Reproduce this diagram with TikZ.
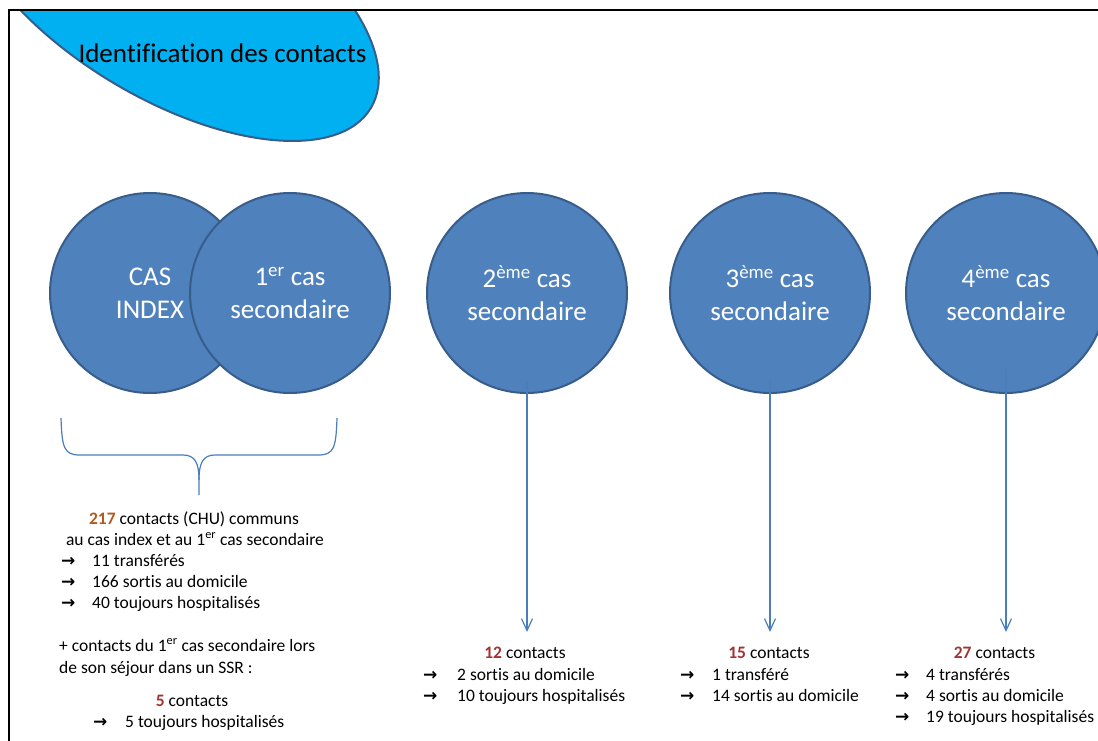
\documentclass[tikz,border=0pt]{standalone}
\usepackage{fontspec}
\setmainfont{Carlito}[Ligatures=NoCommon]
\newfontfamily\arrowfont{DejaVu Sans}
\usetikzlibrary{arrows.meta}
\definecolor{circfill}{HTML}{4F81BD}
\definecolor{circdraw}{HTML}{385D8A}
\definecolor{linkblue}{HTML}{4A7EBB}
\definecolor{titlefill}{HTML}{00B0F0}
\definecolor{numred}{RGB}{160,52,50}
\definecolor{numorange}{RGB}{175,90,30}
\newcommand{\arrline}[2][31pt]{\makebox[#1][l]{\arrowfont\bfseries\fontsize{17}{21}\selectfont →}#2}
\begin{document}
\begin{tikzpicture}[x=1pt,y=-1pt,
  casecircle/.style={circle, fill=circfill, draw=circdraw, line width=2pt, minimum size=200pt, inner sep=0pt, text=white, font=\fontsize{27}{33}\selectfont, align=center},
  bodytext/.style={font=\fontsize{17.5}{21}\selectfont, inner sep=0pt},
  link/.style={draw=linkblue, line width=1.2pt, -{Straight Barb[length=12pt,width=11pt]}},
  bracestyle/.style={draw=linkblue, line width=1.2pt},
  framestyle/.style={draw=black, line width=2pt},
]
\useasboundingbox (0,0) rectangle (1098,740);
\begin{scope}
\clip (9,10) rectangle (1098,740);
\draw[fill=titlefill, draw=circdraw, line width=2pt, rotate around={-30.85:(170,-12)}] (170,-12) ellipse [x radius=234, y radius=110.5];
\node[casecircle] (c0) at (150,293) {CAS\\INDEX};
\node[casecircle] (c1) at (290,293) {1\textsuperscript{er} cas\\secondaire};
\node[casecircle] (c2) at (527,293) {2\textsuperscript{ème} cas\\secondaire};
\node[casecircle] (c3) at (770,293) {3\textsuperscript{ème} cas\\secondaire};
\node[casecircle] (c4) at (1006,293) {4\textsuperscript{ème} cas\\secondaire};
\end{scope}
\draw[framestyle] (9,745) -- (9,10) -- (1105,10);
\node[font=\fontsize{27}{33}\selectfont, inner sep=0pt, anchor=base] (title) at (222.5,62) {Identification des contacts};

% brace
\draw[bracestyle] (61,418) .. controls (62,448) and (64,455) .. (80,455) -- (183,455) .. controls (195,455) and (199,463) .. (199,480) -- (199,495);
\draw[bracestyle] (337,418) .. controls (336,448) and (334,455) .. (318,455) -- (215,455) .. controls (203,455) and (199,463) .. (199,480);

% left block
\node[bodytext, anchor=base] (l1) at (194,524) {\textcolor{numorange}{\bfseries 217} contacts (CHU) communs};
\node[bodytext, anchor=base] (l2) at (195,545) {au cas index et au 1\textsuperscript{er} cas secondaire};
\node[bodytext, anchor=base west] (l3) at (61,566) {\arrline{11 transférés}};
\node[bodytext, anchor=base west] (l4) at (61,587) {\arrline{166 sortis au domicile}};
\node[bodytext, anchor=base west] (l5) at (61,608) {\arrline{40 toujours hospitalisés}};
\node[bodytext, anchor=base west] (l6) at (59,651) {+ contacts du 1\textsuperscript{er} cas secondaire lors};
\node[bodytext, anchor=base west] (l7) at (59,673) {de son séjour dans un SSR :};
\node[bodytext, anchor=base] (l8) at (192,706) {\textcolor{numred}{\bfseries 5} contacts};
\node[bodytext, anchor=base west] (l9) at (93,727) {\arrline[32pt]{5 toujours hospitalisés}};

% column 2
\node[bodytext, anchor=base] (n2) at (525,658) {\textcolor{numred}{\bfseries 12} contacts};
\node[bodytext, anchor=base west] (m2a) at (423,680) {\arrline[34pt]{2 sortis au domicile}};
\node[bodytext, anchor=base west] (m2b) at (423,701) {\arrline[34pt]{10 toujours hospitalisés}};
% column 3
\node[bodytext, anchor=base] (n3) at (769,658) {\textcolor{numred}{\bfseries 15} contacts};
\node[bodytext, anchor=base west] (m3a) at (680,680) {\arrline[32pt]{1 transféré}};
\node[bodytext, anchor=base west] (m3b) at (680,701) {\arrline[32pt]{14 sortis au domicile}};
% column 4
\node[bodytext, anchor=base] (n4) at (994.5,658) {\textcolor{numred}{\bfseries 27} contacts};
\node[bodytext, anchor=base west] (m4a) at (895,680) {\arrline[31pt]{4 transférés}};
\node[bodytext, anchor=base west] (m4b) at (895,701) {\arrline[31pt]{4 sortis au domicile}};
\node[bodytext, anchor=base west] (m4c) at (895,722) {\arrline[31pt]{19 toujours hospitalisés}};

% connectors
\coordinate (e2) at (527,632);
\coordinate (e3) at (770,632);
\coordinate (e4) at (1006,632);
\draw[link] ([yshift=12pt]c2.south) -- (e2);
\draw[link] ([yshift=13pt]c3.south) -- (e3);
\draw[link] ([yshift=25pt]c4.south) -- (e4);
\end{tikzpicture}
\end{document}
